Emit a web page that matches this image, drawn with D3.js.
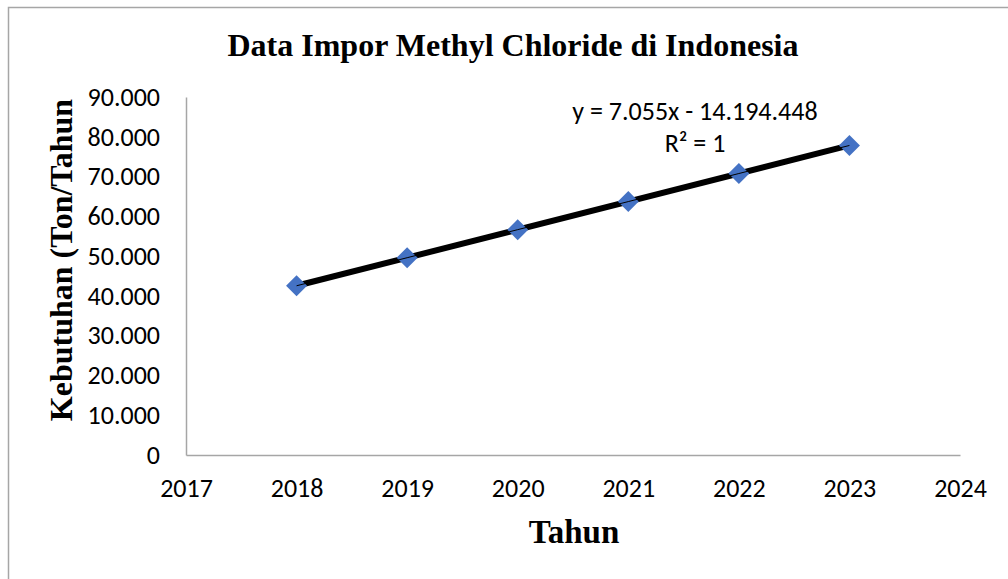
<!DOCTYPE html>
<html>
<head>
<meta charset="utf-8">
<script src="https://cdn.jsdelivr.net/npm/d3@7"></script>
<style>
  body { margin: 0; background: #fff; }
</style>
</head>
<body>
<div id="chart"></div>
<script>
// data
var years = [2018, 2019, 2020, 2021, 2022, 2023];
var imports = [42542, 49597, 56652, 63707, 70762, 77817];
var yTicks = [0, 10000, 20000, 30000, 40000, 50000, 60000, 70000, 80000, 90000];
var xTicks = [2017, 2018, 2019, 2020, 2021, 2022, 2023, 2024];
var titleText = "Data Impor Methyl Chloride di Indonesia";
var eqText = "y = 7.055x - 14.194.448";
var r2Text = "R\u00b2 = 1";

var W = 1008, H = 579;
var plot = {left: 186, right: 960, top: 97, bottom: 455};

var svg = d3.select("#chart").append("svg")
    .attr("width", W)
    .attr("height", H);

// outer chart border (only top and left fall inside the picture)
svg.append("rect")
    .attr("x", 8.5).attr("y", 7.5)
    .attr("width", W + 20).attr("height", H + 20)
    .attr("fill", "none")
    .attr("stroke", "#a6a6a6")
    .attr("stroke-width", 1.5);

var x = d3.scaleLinear().domain([2017, 2024]).range([plot.left, plot.right]);
var y = d3.scaleLinear().domain([0, 90000]).range([plot.bottom, plot.top]);

var fmt = function(d) { return d === 0 ? "0" : d3.format(",")(d).replace(/,/g, "."); };
var tickFont = "Carlito, Calibri, 'Open Sans', sans-serif";
var tickSize = 26;

// y axis
var gy = svg.append("g")
    .attr("transform", "translate(" + plot.left + ",0)")
    .call(d3.axisLeft(y).tickValues(yTicks).tickSize(0).tickPadding(26).tickFormat(fmt));
gy.select(".domain").attr("stroke", "#a6a6a6").attr("stroke-width", 1.5);
gy.selectAll("text")
    .attr("font-family", tickFont)
    .attr("font-size", tickSize)
    .attr("fill", "#000");

// x axis
var gx = svg.append("g")
    .attr("transform", "translate(0," + plot.bottom + ")")
    .call(d3.axisBottom(x).tickValues(xTicks).tickSize(0).tickPadding(24).tickFormat(d3.format("d")));
gx.select(".domain").attr("stroke", "#a6a6a6").attr("stroke-width", 1.5);
gx.selectAll("text")
    .attr("font-family", tickFont)
    .attr("font-size", tickSize)
    .attr("fill", "#000");

// title and axis titles
var serif = "'Liberation Serif', 'Times New Roman', serif";
svg.append("text")
    .attr("x", 513).attr("y", 56)
    .attr("text-anchor", "middle")
    .attr("font-family", serif)
    .attr("font-weight", "bold")
    .attr("font-size", 32)
    .text(titleText);

svg.append("text")
    .attr("transform", "translate(72,260) rotate(-90)")
    .attr("text-anchor", "middle")
    .attr("font-family", serif)
    .attr("font-weight", "bold")
    .attr("font-size", 32)
    .text("Kebutuhan (Ton/Tahun");

svg.append("text")
    .attr("x", 574).attr("y", 543)
    .attr("text-anchor", "middle")
    .attr("font-family", serif)
    .attr("font-weight", "bold")
    .attr("font-size", 33)
    .text("Tahun");

var pts = years.map(function(d, i) { return [d, imports[i]]; });
var line = d3.line().x(function(d) { return x(d[0]); }).y(function(d) { return y(d[1]); });

// trend line
svg.append("path")
    .datum([pts[0], pts[pts.length - 1]])
    .attr("d", line)
    .attr("fill", "none")
    .attr("stroke", "#000")
    .attr("stroke-width", 6);

// markers
svg.selectAll(".pt")
    .data(pts)
    .enter().append("path")
    .attr("class", "pt")
    .attr("d", d3.symbol().type(d3.symbolSquare).size(220))
    .attr("transform", function(d) { return "translate(" + x(d[0]) + "," + y(d[1]) + ") rotate(45)"; })
    .attr("fill", "#4472c4");

// thin series line over the markers
svg.append("path")
    .datum(pts)
    .attr("d", line)
    .attr("fill", "none")
    .attr("stroke", "#000")
    .attr("stroke-width", 1);

// trendline label
svg.append("text")
    .attr("x", 695).attr("y", 120)
    .attr("text-anchor", "middle")
    .attr("font-family", tickFont)
    .attr("font-size", tickSize)
    .text(eqText);
svg.append("text")
    .attr("x", 695).attr("y", 152)
    .attr("text-anchor", "middle")
    .attr("font-family", tickFont)
    .attr("font-size", tickSize)
    .text(r2Text);
</script>
</body>
</html>
